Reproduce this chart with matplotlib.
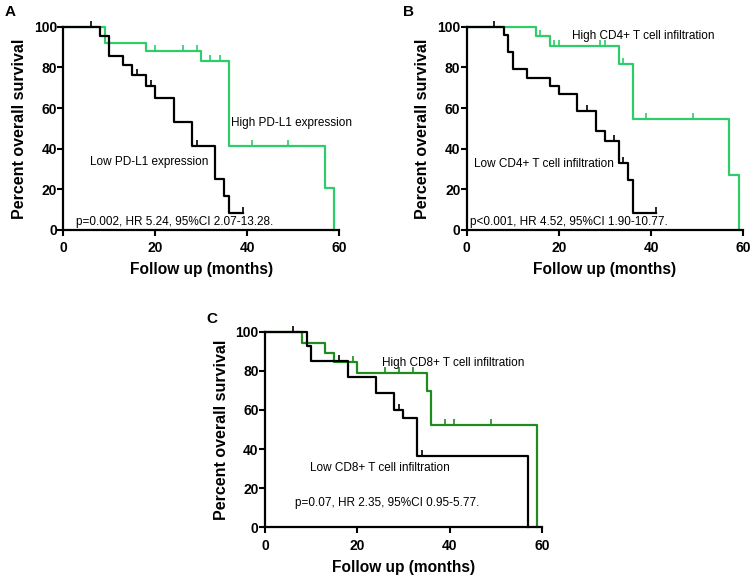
"""
Kaplan-Meier overall survival curves (panels A-C), drawn as step plots.
"""
import matplotlib
matplotlib.use("Agg")
import matplotlib.pyplot as plt
import numpy as np

plt.rcParams["font.family"] = ["Liberation Sans", "DejaVu Sans"]

GREEN = "#2ecc6a"
DARK_GREEN = "#1e8c1e"

# Panel A - PD-L1 expression
a_high_t = [0, 9, 18, 30, 36, 57, 59]
a_high_s = [100, 92.1, 88.2, 82.9, 41.4, 20.7, 0]
a_high_cens = [20, 26, 29, 32, 34, 41, 49]
a_low_t = [0, 8, 10, 13, 15, 18, 20, 24, 28, 33, 35, 36, 39]
a_low_s = [100, 95.2, 85.7, 81.0, 76.2, 70.9, 65.1, 53.2, 41.2, 24.9, 16.6, 8.6, 8.6]
a_low_cens = [6, 16, 19, 29, 39]

# Panel B - CD4+ T cell infiltration
b_high_t = [0, 15, 18, 33, 36, 57, 59]
b_high_s = [100, 95.3, 90.5, 81.5, 54.4, 27.2, 0]
b_high_cens = [16, 19, 20, 29, 30, 34, 39, 49]
b_low_t = [0, 8, 9, 10, 13, 18, 20, 24, 28, 30, 33, 35, 36, 41]
b_low_s = [100, 95.8, 87.5, 79.2, 75.0, 70.8, 66.7, 58.3, 48.6, 43.7, 32.8, 24.6, 8.2, 8.2]
b_low_cens = [6, 26, 32, 34, 41]

# Panel C - CD8+ T cell infiltration
c_high_t = [0, 8, 13, 15, 20, 35, 36, 59]
c_high_s = [100, 94.4, 89.3, 84.3, 78.7, 69.8, 52.3, 0]
c_high_cens = [19, 26, 29, 32, 39, 41, 49]
c_low_t = [0, 9, 10, 18, 24, 28, 30, 33, 57]
c_low_s = [100, 92.6, 85.2, 76.7, 68.8, 60.0, 55.7, 36.5, 0]
c_low_cens = [6, 16, 29, 34]

X_TICKS = [0, 20, 40, 60]
Y_TICKS = [0, 20, 40, 60, 80, 100]


def surv_at(times, surv, t):
    idx = np.searchsorted(np.asarray(times), t, side="right") - 1
    return np.asarray(surv)[idx]


def draw_curve(ax, times, surv, cens, color, z):
    ax.step(times, surv, where="post", color=color, lw=1.6, clip_on=False, zorder=z)
    ax.plot(cens, surv_at(times, surv, cens), ls="none", marker=2, ms=4.5, mew=1.2,
            color=color, clip_on=False, zorder=z)


def style_axes(ax):
    ax.set_xlim(0, 60)
    ax.set_ylim(0, 100)
    ax.set_xticks(X_TICKS)
    ax.set_yticks(Y_TICKS)
    for side in ["top", "right"]:
        ax.spines[side].set_visible(False)
    for side in ["left", "bottom"]:
        ax.spines[side].set_linewidth(1.6)
    ax.tick_params(direction="out", length=4, width=1.5, labelsize=10)
    ax.tick_params(axis="x", pad=4.2)
    ax.tick_params(axis="y", pad=0.5)
    for lab in ax.get_xticklabels() + ax.get_yticklabels():
        lab.set_fontweight("bold")
    ax.set_xlabel("Follow up (months)", fontsize=11.2, fontweight="bold", labelpad=5)
    ax.set_ylabel("Percent overall survival", fontsize=11.5, fontweight="bold", labelpad=5)


fig = plt.figure(figsize=(7.53, 5.77), dpi=100)

ax_a = fig.add_axes([0.0841, 0.6014, 0.3661, 0.3523])
draw_curve(ax_a, a_high_t, a_high_s, a_high_cens, GREEN, 2)
draw_curve(ax_a, a_low_t, a_low_s, a_low_cens, "black", 3)
style_axes(ax_a)
ax_a.text(36.5, 52.6, "High PD-L1 expression", fontsize=8.5, va="center")
ax_a.text(5.8, 33.3, "Low PD-L1 expression", fontsize=8.5, va="center")
ax_a.text(2.8, 4.1, "p=0.002, HR 5.24, 95%CI 2.07-13.28.", fontsize=8.5, va="center")

ax_b = fig.add_axes([0.6198, 0.6014, 0.3673, 0.3523])
draw_curve(ax_b, b_high_t, b_high_s, b_high_cens, GREEN, 2)
draw_curve(ax_b, b_low_t, b_low_s, b_low_cens, "black", 3)
style_axes(ax_b)
ax_b.text(22.8, 95.4, "High CD4+ T cell infiltration", fontsize=8.5, va="center")
ax_b.text(1.6, 32.3, "Low CD4+ T cell infiltration", fontsize=8.5, va="center")
ax_b.text(0.7, 4.1, "p<0.001, HR 4.52, 95%CI 1.90-10.77.", fontsize=8.5, va="center")

ax_c = fig.add_axes([0.3519, 0.0861, 0.3679, 0.339])
draw_curve(ax_c, c_high_t, c_high_s, c_high_cens, DARK_GREEN, 2)
draw_curve(ax_c, c_low_t, c_low_s, c_low_cens, "black", 3)
style_axes(ax_c)
ax_c.text(25.4, 83.8, "High CD8+ T cell infiltration", fontsize=8.5, va="center")
ax_c.text(9.7, 30.5, "Low CD8+ T cell infiltration", fontsize=8.5, va="center")
ax_c.text(6.4, 12.3, "p=0.07, HR 2.35, 95%CI 0.95-5.77.", fontsize=8.5, va="center")

# panel letters
fig.text(10 / 753, 1 - 12 / 577, "A", fontsize=11, fontweight="bold", ha="center", va="center")
fig.text(408 / 753, 1 - 12 / 577, "B", fontsize=11, fontweight="bold", ha="center", va="center")
fig.text(212 / 753, 1 - 319 / 577, "C", fontsize=11, fontweight="bold", ha="center", va="center")

fig.savefig("out.png", dpi=100)
